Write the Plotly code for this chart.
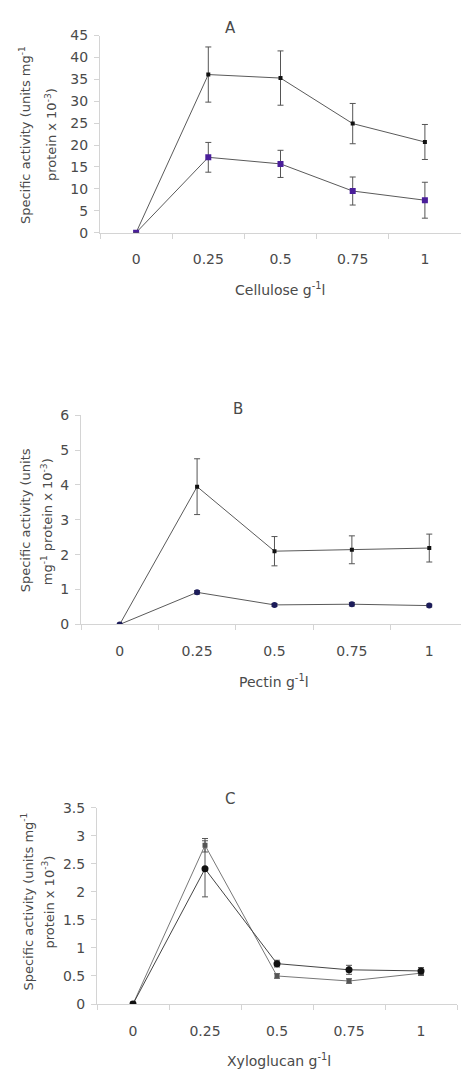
import plotly.graph_objects as go

W, H = 461, 1080

categories = ["0", "0.25", "0.5", "0.75", "1"]

# Panel A (cellulose)
a_black = [0, 36.1, 35.3, 24.9, 20.7]
a_black_err = [0, 6.3, 6.2, 4.6, 4.0]
a_purple = [0, 17.2, 15.7, 9.5, 7.4]
a_purple_err = [0, 3.4, 3.1, 3.2, 4.1]

# Panel B (pectin)
b_black = [0, 3.95, 2.10, 2.14, 2.19]
b_black_err = [0, 0.80, 0.42, 0.40, 0.40]
b_blue = [0, 0.92, 0.56, 0.58, 0.54]
b_blue_err = [0, 0.05, 0.04, 0.05, 0.04]

# Panel C (xyloglucan)
c_black = [0, 2.41, 0.72, 0.61, 0.59]
c_black_err = [0, 0.50, 0.06, 0.08, 0.06]
c_gray = [0, 2.83, 0.50, 0.41, 0.55]
c_gray_err = [0, 0.12, 0.04, 0.04, 0.04]

FONT = "DejaVu Sans"
TXT = "#4a4a4a"
AX = "#d4d4d4"
LINE = "#5a5a5a"


def px(x):
    return x / W


def py(y):
    return 1 - y / H


fig = go.Figure()


def add_series(xa, ya, y, err, color, symbol, size, lcolor=LINE):
    fig.add_trace(go.Scatter(
        x=categories, y=y, xaxis=xa, yaxis=ya, mode="lines+markers",
        line=dict(color=lcolor, width=1),
        marker=dict(color=color, symbol=symbol, size=size),
        error_y=dict(type="data", array=err, visible=True, color="#555555",
                     thickness=1, width=3),
        showlegend=False, hoverinfo="skip"))


add_series("x", "y", a_black, a_black_err, "#111111", "square", 4)
add_series("x", "y", a_purple, a_purple_err, "#4a1e9a", "square", 6)
add_series("x2", "y2", b_black, b_black_err, "#111111", "square", 4)
add_series("x2", "y2", b_blue, b_blue_err, "#1c1c5a", "circle", 6)
add_series("x3", "y3", c_gray, c_gray_err, "#555555", "square", 5, "#777777")
add_series("x3", "y3", c_black, c_black_err, "#111111", "circle", 7, "#444444")

tickfont = dict(family=FONT, size=14, color=TXT)


def xax(domain, rng, anchor):
    return dict(domain=domain, anchor=anchor, type="category", range=rng,
                tickson="boundaries", ticks="outside", ticklen=5, tickcolor=AX,
                showline=True, linecolor=AX, linewidth=1, showgrid=False,
                zeroline=False, tickfont=tickfont, ticklabelstandoff=14,
                fixedrange=True)


def yax(domain, rng, dtick, anchor):
    return dict(domain=domain, anchor=anchor, range=rng, dtick=dtick,
                ticks="outside", ticklen=5, tickcolor=AX, showline=True,
                linecolor=AX, linewidth=1, showgrid=False, zeroline=False,
                tickfont=tickfont, ticklabelstandoff=3, fixedrange=True)


fig.update_layout(
    width=W, height=H, margin=dict(l=0, r=0, t=0, b=0),
    paper_bgcolor="white", plot_bgcolor="white",
    xaxis=xax([px(100), 1], [-0.5, 4.5], "y"),
    yaxis=yax([py(228), py(28)], [0, 45], 5, "x"),
    xaxis2=xax([px(81), 1], [-0.5, 4.41], "y2"),
    yaxis2=yax([py(625.7), py(413.3)], [0, 6], 1, "x2"),
    xaxis3=xax([px(97), px(457)], [-0.5, 4.5], "y3"),
    yaxis3=yax([py(1011), py(811.7)], [0, 3.5], 0.5, "x3"),
)

ann = []


def text(x, y, s, size=13, angle=0):
    ann.append(dict(x=px(x), y=py(y), xref="paper", yref="paper", text=s,
                    showarrow=False, textangle=angle, xanchor="center",
                    yanchor="middle",
                    font=dict(family=FONT, size=size, color=TXT)))


# panel titles
text(230, 20, "A", 15)
text(238, 407, "B", 15)
text(230, 803, "C", 15)

# x-axis titles
text(280, 285, "Cellulose g<sup>-1</sup>l", 14)
text(274, 683, "Pectin g<sup>-1</sup>l", 14)
text(279, 1068, "Xyloglucan g<sup>-1</sup>l", 14)

# y-axis titles (two lines each)
text(25, 129, "Specific activity (units mg<sup>-1</sup>", 13, -90)
text(51, 129, "protein x 10<sup>-3</sup>)", 13, -90)
text(25, 520, "Specific activity (units", 13, -90)
text(47, 522, "mg<sup>-1</sup> protein x 10<sup>-3</sup>)", 13, -90)
text(27, 907, "Specific activity (units mg<sup>-1</sup>", 13, -90)
text(48, 908, "protein x 10<sup>-3</sup>)", 13, -90)

fig.update_layout(annotations=ann)

fig.write_html(
    "out.html",
    config={"displayModeBar": False, "staticPlot": True},
    post_script="document.body.style.margin='0';"
                "document.body.style.overflow='hidden';",
)
